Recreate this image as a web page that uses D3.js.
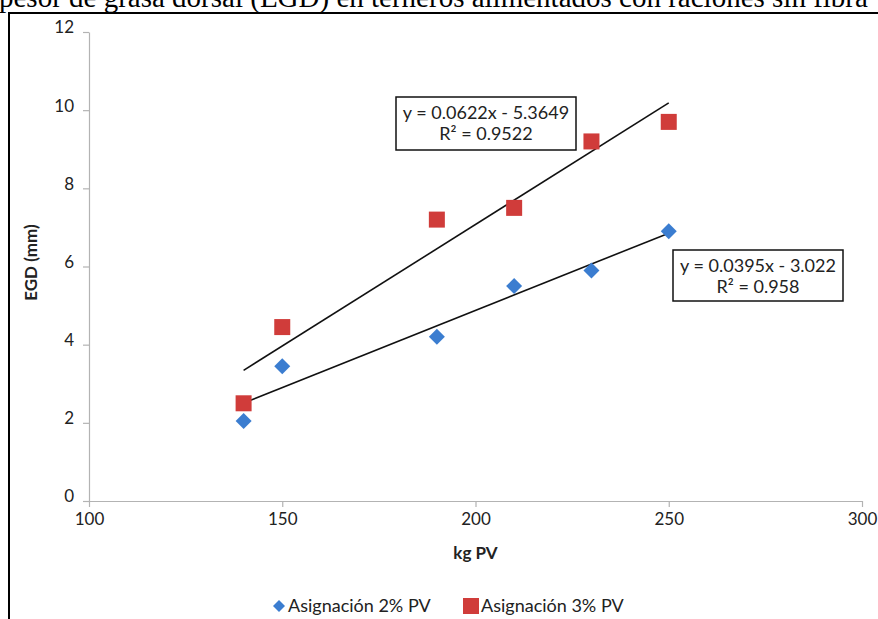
<!DOCTYPE html>
<html>
<head>
<meta charset="utf-8">
<script src="https://cdn.jsdelivr.net/npm/d3@7"></script>
<style>
  html, body { margin: 0; padding: 0; background: #fff; overflow: hidden; }
  svg { display: block; }
</style>
</head>
<body>
<div id="chart"></div>
<script>
// Data
const xValues = [140, 150, 190, 210, 230, 250];
const egd2 = [2.05, 3.45, 4.2, 5.5, 5.9, 6.9];   // Asignación 2% PV
const egd3 = [2.5, 4.45, 7.2, 7.5, 9.2, 9.7];    // Asignación 3% PV
const seriesNames = ["Asignación 2% PV", "Asignación 3% PV"];
// trendline coefficients shown on the chart: [slope, intercept, r2]
const fit2 = [0.0395, -3.022, 0.958];
const fit3 = [0.0622, -5.3649, 0.9522];
const fitLabels2 = ["y = 0.0395x - 3.022", "R² = 0.958"];
const fitLabels3 = ["y = 0.0622x - 5.3649", "R² = 0.9522"];
const xTicks = [100, 150, 200, 250, 300];
const yTicks = [0, 2, 4, 6, 8, 10, 12];

const width = 878, height = 619;
const font = "Lato, 'Open Sans', sans-serif";

const svg = d3.select("#chart").append("svg")
    .attr("width", width)
    .attr("height", height);

// caption cut off at the top of the page
svg.append("text")
    .attr("x", -1)
    .attr("y", 7)
    .attr("font-family", "'Liberation Serif', 'Times New Roman', serif")
    .attr("font-size", 29)
    .attr("fill", "#000")
    .text("pesor de grasa dorsal (EGD) en terneros alimentados con raciones sin fibra");

// chart frame
svg.append("rect")
    .attr("x", 9)
    .attr("y", 13)
    .attr("width", 900)
    .attr("height", 700)
    .attr("fill", "#fff")
    .attr("stroke", "#000")
    .attr("stroke-width", 2);

const x = d3.scaleLinear().domain([100, 300]).range([89, 862]);
const y = d3.scaleLinear().domain([0, 12]).range([501, 32]);

// axes
const axisColor = "#b3b3b3";
const gx = svg.append("g")
    .attr("transform", `translate(0,${y(0)})`)
    .call(d3.axisBottom(x).tickValues(xTicks).tickSize(6).tickSizeOuter(0).tickPadding(3));
const gy = svg.append("g")
    .attr("transform", `translate(${x(100)},0)`)
    .call(d3.axisLeft(y).tickValues(yTicks).tickSize(6).tickSizeOuter(0).tickPadding(9));

[gx, gy].forEach(g => {
    g.select(".domain").attr("stroke", axisColor).attr("stroke-width", 1.2);
    g.selectAll(".tick line").attr("stroke", axisColor).attr("stroke-width", 1.2);
    g.selectAll(".tick text")
        .attr("font-family", font)
        .attr("font-size", 17)
        .attr("fill", "#222");
});
gx.selectAll(".tick text").attr("dy", "0.9em");
gy.selectAll(".tick text").attr("dy", "0.05em");

// axis titles
svg.append("text")
    .attr("x", x(200))
    .attr("y", 559)
    .attr("text-anchor", "middle")
    .attr("font-family", font)
    .attr("font-weight", "bold")
    .attr("font-size", 17)
    .attr("fill", "#222")
    .text("kg PV");

svg.append("text")
    .attr("transform", `translate(37,${y(6.1)}) rotate(-90)`)
    .attr("text-anchor", "middle")
    .attr("font-family", font)
    .attr("font-weight", "bold")
    .attr("font-size", 17)
    .attr("fill", "#222")
    .text("EGD (mm)");

// trendlines
const xMin = d3.min(xValues), xMax = d3.max(xValues);
[fit3, fit2].forEach(f => {
    svg.append("line")
        .attr("x1", x(xMin))
        .attr("y1", y(f[0] * xMin + f[1]))
        .attr("x2", x(xMax))
        .attr("y2", y(f[0] * xMax + f[1]))
        .attr("stroke", "#111")
        .attr("stroke-width", 1.6);
});

// markers
const blue = "#3b7dd0", red = "#d03c3a";
svg.append("g").selectAll("path")
    .data(xValues.map((v, i) => [v, egd2[i]]))
    .enter()
    .append("path")
    .attr("transform", d => `translate(${x(d[0])},${y(d[1])})`)
    .attr("d", "M0,-8L8,0L0,8L-8,0Z")
    .attr("fill", blue);

svg.append("g").selectAll("rect")
    .data(xValues.map((v, i) => [v, egd3[i]]))
    .enter()
    .append("rect")
    .attr("x", d => x(d[0]) - 8)
    .attr("y", d => y(d[1]) - 8)
    .attr("width", 16)
    .attr("height", 16)
    .attr("fill", red);

// trendline equation labels
function eqBox(lines, bx, by, bw, bh) {
    const g = svg.append("g");
    g.append("rect")
        .attr("x", bx).attr("y", by)
        .attr("width", bw).attr("height", bh)
        .attr("fill", "#fff")
        .attr("stroke", "#111")
        .attr("stroke-width", 1.5);
    lines.forEach((t, i) => {
        g.append("text")
            .attr("x", bx + bw / 2)
            .attr("y", by + 22 + i * 21)
            .attr("text-anchor", "middle")
            .attr("font-family", font)
            .attr("font-size", 18)
            .attr("fill", "#222")
            .text(t);
    });
}
eqBox(fitLabels3, 396, 97, 180, 53);
eqBox(fitLabels2, 673, 250, 170, 51);

// legend
const legend = svg.append("g").attr("transform", "translate(0,606)");
legend.append("path")
    .attr("transform", "translate(279,0)")
    .attr("d", "M0,-6L6,0L0,6L-6,0Z")
    .attr("fill", blue);
legend.append("text")
    .attr("x", 288).attr("y", 6)
    .attr("font-family", font).attr("font-size", 18).attr("fill", "#222")
    .text(seriesNames[0]);
legend.append("rect")
    .attr("x", 463).attr("y", -8)
    .attr("width", 16).attr("height", 16)
    .attr("fill", red);
legend.append("text")
    .attr("x", 481).attr("y", 6)
    .attr("font-family", font).attr("font-size", 18).attr("fill", "#222")
    .text(seriesNames[1]);
</script>
</body>
</html>
